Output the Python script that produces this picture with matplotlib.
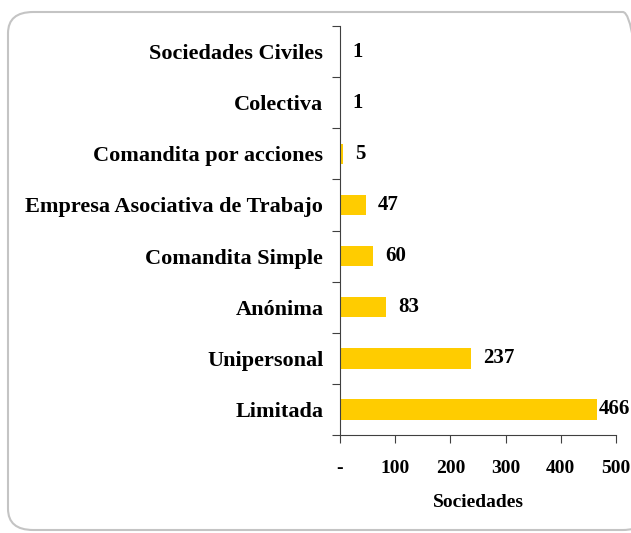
import matplotlib.pyplot as plt
from matplotlib.patches import FancyBboxPatch
from matplotlib.ticker import FuncFormatter

categories = ["Limitada", "Unipersonal", "Anónima", "Comandita Simple",
              "Empresa Asociativa de Trabajo", "Comandita por acciones",
              "Colectiva", "Sociedades Civiles"]
values = [466, 237, 83, 60, 47, 5, 1, 1]
xticks = [0, 100, 200, 300, 400, 500]

plt.rcParams["font.family"] = ["Liberation Serif", "DejaVu Serif"]
plt.rcParams["font.weight"] = "bold"

fig = plt.figure(figsize=(6.31, 5.33), dpi=100)
ax = fig.add_axes([340 / 631, 1 - 435 / 533, 276 / 631, 409 / 533])

y = range(len(categories))
bars = ax.barh(y, values, height=0.4, color="#FFCC00")
labels = []
for yi, v in zip(y, values):
    t = ax.annotate(str(v), (v, yi), xytext=(8.6, 0), textcoords="offset points",
                    va="center", ha="left", fontsize=15, fontweight="bold",
                    annotation_clip=False)
    labels.append(t)

ax.set_xlim(0, 500)
ax.set_ylim(-0.5, len(categories) - 0.5)
ax.set_xticks(xticks)
ax.xaxis.set_major_formatter(FuncFormatter(lambda v, p: "-" if v == 0 else f"{int(v)}"))
ax.set_yticks([i - 0.5 for i in range(len(categories) + 1)], minor=False)
ax.set_yticklabels([])
ax.set_yticks(list(y), minor=True)
ax.set_yticklabels(categories, minor=True)
ax.tick_params(axis="y", which="major", length=6, direction="out", color="#404040")
ax.tick_params(axis="y", which="minor", length=0, pad=12, labelsize=16)
ax.tick_params(axis="x", length=6, direction="out", pad=12, labelsize=14, color="#404040")
for lab in ax.get_yticklabels(minor=True) + ax.get_xticklabels():
    lab.set_fontweight("bold")
ax.set_xlabel("Sociedades", fontsize=14, fontweight="bold", labelpad=12)

for s in ["top", "right"]:
    ax.spines[s].set_visible(False)
for s in ["left", "bottom"]:
    ax.spines[s].set_color("#404040")

border = FancyBboxPatch((8 / 631, 1 - 530 / 533), 640 / 631, 518 / 533,
                        boxstyle="round,pad=0,rounding_size=0.04",
                        transform=fig.transFigure, fill=False,
                        edgecolor="#C4C4C4", linewidth=1.5, clip_on=False)
fig.patches.append(border)

# keep value labels inside the figure, as the original chart does
fig.canvas.draw()
r = fig.canvas.get_renderer()
fig_w = fig.bbox.width
for t in labels:
    bb = t.get_window_extent(r)
    if bb.x1 > fig_w - 1:
        dx = (bb.x1 - (fig_w - 1)) * 72 / fig.dpi
        t.set_position((8.6 - dx, 0))

fig.savefig("out.png", dpi=100)
